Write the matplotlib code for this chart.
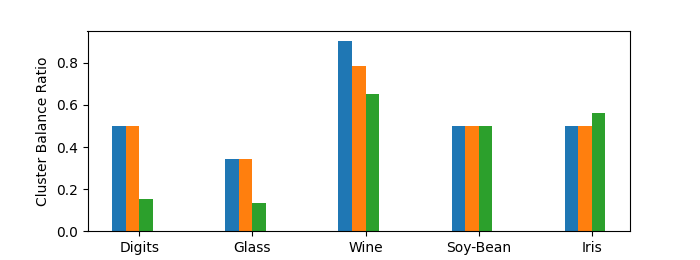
import matplotlib
matplotlib.use("Agg")
import matplotlib.pyplot as plt
import numpy as np

categories = ["Digits", "Glass", "Wine", "Soy-Bean", "Iris"]
series_a = [0.5, 0.344, 0.904, 0.5, 0.5]
series_b = [0.5, 0.344, 0.785, 0.5, 0.5]
series_c = [0.154, 0.135, 0.652, 0.5, 0.562]

fig, ax = plt.subplots(figsize=(7, 2.6), dpi=100)
x = np.arange(len(categories))
w = 0.12
ax.bar(x - 1.5 * w, series_a, width=w, color="#1f77b4")
ax.bar(x - 0.5 * w, series_b, width=w, color="#ff7f0e")
ax.bar(x + 0.5 * w, series_c, width=w, color="#2ca02c")
ax.set_xticks(x)
ax.set_xticklabels(categories)
ax.set_ylabel("Cluster Balance Ratio")
fig.savefig("out.png", dpi=100)
